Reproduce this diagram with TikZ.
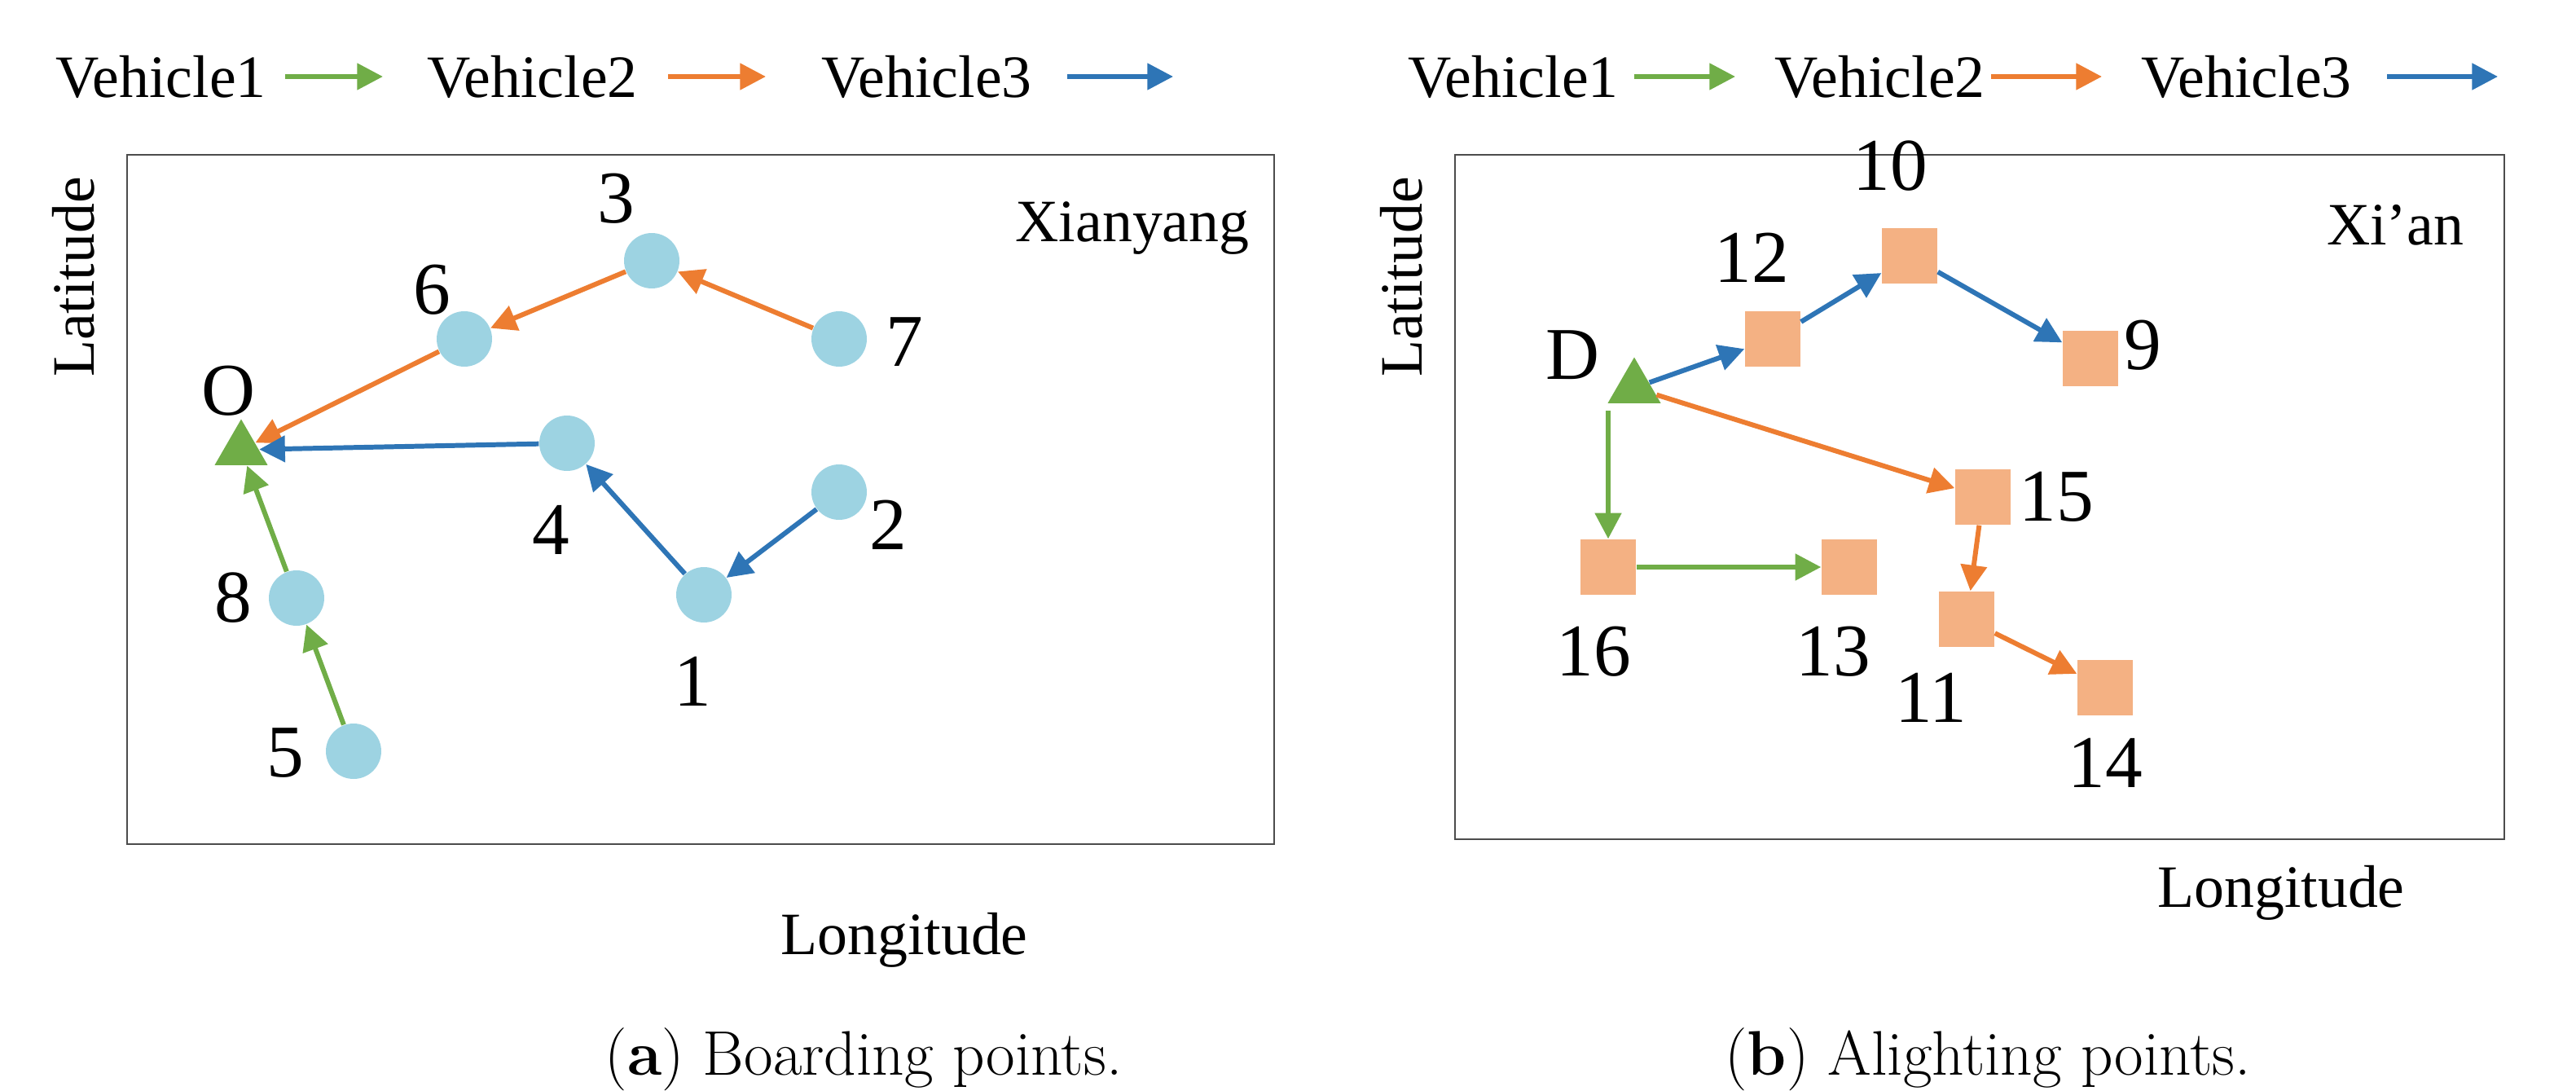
\documentclass[tikz,border=0pt]{standalone}
\usepackage{fontspec}
\setmainfont{Liberation Serif}
\newfontfamily\capfont{Latin Modern Roman}
\usetikzlibrary{shapes.geometric,arrows.meta}
\definecolor{cgreen}{HTML}{70AD47}
\definecolor{corange}{HTML}{ED7D31}
\definecolor{cblue}{HTML}{2E75B6}
\definecolor{cpt}{HTML}{9DD3E2}
\definecolor{csq}{HTML}{F4B183}
\begin{document}
\begin{tikzpicture}[x=0.02cm,y=-0.02cm,
  pt/.style={circle,fill=cpt,inner sep=0pt,minimum size=0.68cm},
  sq/.style={rectangle,fill=csq,inner sep=0pt,minimum size=0.68cm},
  tri/.style={regular polygon,regular polygon sides=3,fill=cgreen,inner sep=0pt,minimum size=0.75cm},
  num/.style={font=\fontsize{26}{28}\selectfont},
  leg/.style={font=\fontsize{21}{23}\selectfont},
  captxt/.style={font=\capfont\fontsize{22}{24}\selectfont},
  ed/.style={line width=1.7pt,-{Triangle[length=9pt,width=9pt]}},
  g/.style={ed,cgreen}, o/.style={ed,corange}, b/.style={ed,cblue}]
\useasboundingbox (0,0) rectangle (1581,669);
% left panel
\node[leg,anchor=west] at (28,47) {Vehicle1};
\coordinate (la1) at (175,47); \coordinate (la2) at (235,47);
\draw[g] (la1) -- (la2);
\node[leg,anchor=west] at (256,47) {Vehicle2};
\coordinate (la3) at (410,47); \coordinate (la4) at (470,47);
\draw[o] (la3) -- (la4);
\node[leg,anchor=west] at (498,47) {Vehicle3};
\coordinate (la5) at (655,47); \coordinate (la6) at (720,47);
\draw[b] (la5) -- (la6);
\draw[line width=0.8pt,black!70] (78,95) rectangle (782,518);
\node[leg,rotate=90] at (45,170) {Latitude};
\node[leg] at (555,577) {Longitude};
\node[leg] at (695,140) {Xianyang};
\node[pt] (p3) at (400,160) {};
\node[pt] (p6) at (285,208) {};
\node[pt] (p7) at (515,208) {};
\node[tri] (O) at (148,276) {};
\node[pt] (p4) at (348,272) {};
\node[pt] (p2) at (515,302) {};
\node[pt] (p1) at (432,365) {};
\node[pt] (p8) at (182,367) {};
\node[pt] (p5) at (217,461) {};
\node[num] at (378,122) {3};
\node[num] at (265,178) {6};
\node[num] at (555,210) {7};
\node[num] at (140,240) {O};
\node[num] at (338,325) {4};
\node[num] at (545,322) {2};
\node[num] at (425,418) {1};
\node[num] at (143,367) {8};
\node[num] at (175,462) {5};
\draw[o] (p7) -- (p3);
\draw[o] (p3) -- (p6);
\draw[o] (p6) -- (O);
\draw[b] (p4) -- (O);
\draw[b] (p2) -- (p1);
\draw[b] (p1) -- (p4);
\draw[g] (p5) -- (p8);
\draw[g] (p8) -- (O);
\node[captxt] at (530,650) {(\textbf{a}) Boarding points.};
% right panel
\node[leg,anchor=west] at (858,47) {Vehicle1};
\coordinate (lb1) at (1003,47); \coordinate (lb2) at (1065,47);
\draw[g] (lb1) -- (lb2);
\node[leg,anchor=west] at (1083,47) {Vehicle2};
\coordinate (lb3) at (1222,47); \coordinate (lb4) at (1290,47);
\draw[o] (lb3) -- (lb4);
\node[leg,anchor=west] at (1308,47) {Vehicle3};
\coordinate (lb5) at (1465,47); \coordinate (lb6) at (1533,47);
\draw[b] (lb5) -- (lb6);
\draw[line width=0.8pt,black!70] (893,95) rectangle (1537,515);
\node[leg,rotate=90] at (860,170) {Latitude};
\node[leg] at (1400,548) {Longitude};
\node[leg] at (1470,138) {Xi'an};
\node[sq] (s10) at (1172,157) {};
\node[sq] (s12) at (1088,208) {};
\node[sq] (s9) at (1283,220) {};
\node[tri] (D) at (1003,238) {};
\node[sq] (s15) at (1217,305) {};
\node[sq] (s16) at (987,348) {};
\node[sq] (s13) at (1135,348) {};
\node[sq] (s11) at (1207,380) {};
\node[sq] (s14) at (1292,422) {};
\node[num] at (1160,102) {10};
\node[num] at (1075,158) {12};
\node[num] at (1315,212) {9};
\node[num] at (965,218) {D};
\node[num] at (1262,305) {15};
\node[num] at (978,400) {16};
\node[num] at (1125,400) {13};
\node[num] at (1185,428) {11};
\node[num] at (1292,468) {14};
\draw[b] (D) -- (s12);
\draw[b] (s12) -- (s10);
\draw[b] (s10) -- (s9);
\draw[o] (D) -- (s15);
\draw[o] (s15) -- (s11);
\draw[o] (s11) -- (s14);
\coordinate (d1) at (987,252);
\draw[g] (d1) -- (s16);
\draw[g] (s16) -- (s13);
\node[captxt] at (1220,650) {(\textbf{b}) Alighting points.};
\end{tikzpicture}
\end{document}
